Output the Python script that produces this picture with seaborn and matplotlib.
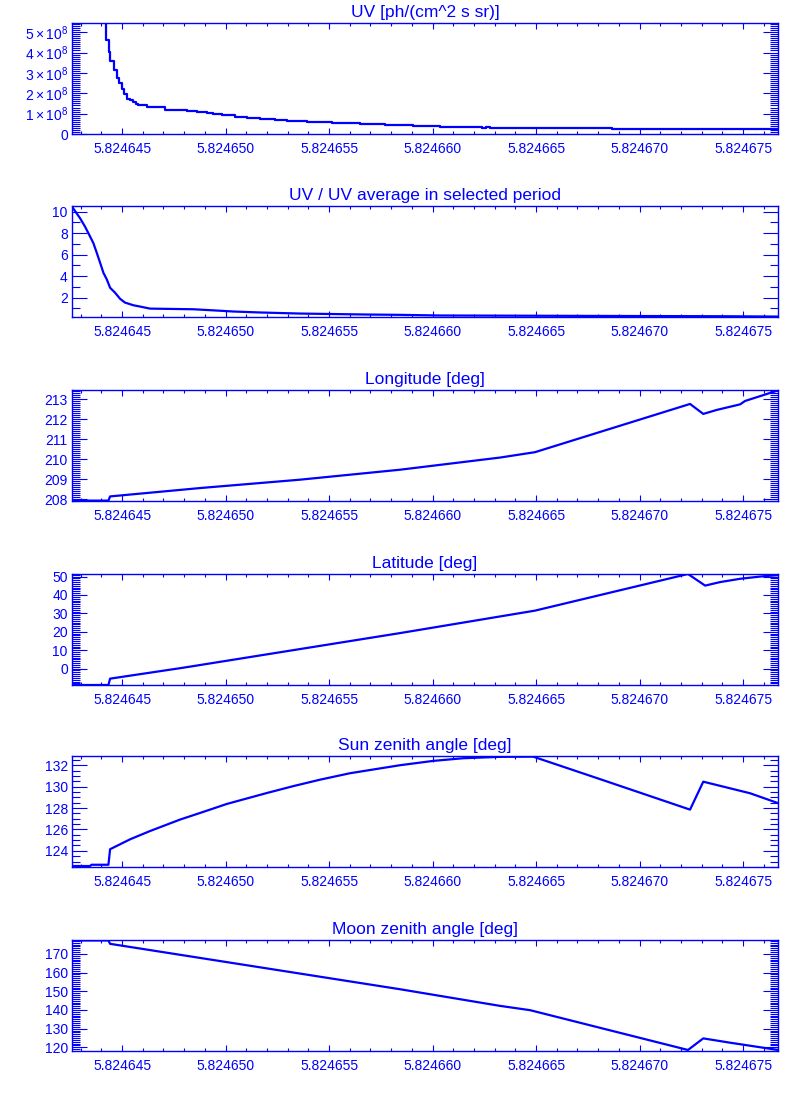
import matplotlib
matplotlib.use("Agg")
import matplotlib.pyplot as plt
from matplotlib.ticker import MultipleLocator, FormatStrFormatter, FuncFormatter
import seaborn as sns
import pandas as pd

# ---------------- data ----------------
uv_x = [5.82464258, 5.82464320, 5.82464370, 5.82464400, 5.82464423, 5.82464436, 5.82464443,
        5.82464460, 5.82464474, 5.82464487, 5.82464500, 5.82464511, 5.82464524, 5.82464539,
        5.82464552, 5.82464566, 5.82464579, 5.82464619, 5.82464708, 5.82464813, 5.82464861,
        5.82464909, 5.82464941, 5.82464982, 5.82465046, 5.82465102, 5.82465167, 5.82465239,
        5.82465296, 5.82465392, 5.82465513, 5.82465650, 5.82465771, 5.82465907, 5.82466036,
        5.82466238, 5.82466258, 5.82466278, 5.82466866, 5.82467669]
uv_y = [12.2e8, 10.0e8, 8.0e8, 6.5e8, 4.60e8, 4.05e8, 3.56e8,
        3.13e8, 2.77e8, 2.48e8, 2.21e8, 1.94e8, 1.73e8, 1.65e8,
        1.56e8, 1.48e8, 1.44e8, 1.32e8, 1.19e8, 1.13e8, 1.06e8,
        1.02e8, 0.97e8, 0.92e8, 0.85e8, 0.81e8, 0.76e8, 0.71e8,
        0.65e8, 0.60e8, 0.53e8, 0.48e8, 0.44e8, 0.39e8, 0.34e8,
        0.31e8, 0.34e8, 0.31e8, 0.26e8, 0.26e8]

ratio_x = [5.82464258, 5.82464297, 5.82464321, 5.82464337, 5.82464361, 5.82464378, 5.82464394,
           5.82464410, 5.82464426, 5.82464442, 5.82464466, 5.82464490, 5.82464514, 5.82464555,
           5.82464587, 5.82464635, 5.82464844, 5.82464957, 5.82465038, 5.82465167, 5.82465360,
           5.82465682, 5.82465843, 5.82466036, 5.82466809, 5.82467423, 5.82467669]
ratio_y = [10.46, 9.38, 8.6, 8.0, 7.08, 6.15, 5.23,
           4.3, 3.7, 2.92, 2.46, 1.9, 1.54, 1.29,
           1.17, 0.98, 0.92, 0.80, 0.71, 0.62, 0.52,
           0.43, 0.40, 0.34, 0.30, 0.27, 0.24]

lon_x = [5.82464258, 5.82464434, 5.82464442, 5.82464877, 5.82465360, 5.82465843, 5.82466326,
         5.82466495, 5.82467244, 5.82467308, 5.82467373, 5.82467486, 5.82467510, 5.82467669]
lon_y = [207.92, 207.92, 208.13, 208.55, 208.97, 209.47, 210.08,
         210.35, 212.77, 212.27, 212.47, 212.75, 212.92, 213.45]

lat_x = [5.82464258, 5.82464434, 5.82464442, 5.82464796, 5.82465843, 5.82466495, 5.82467234,
         5.82467317, 5.82467389, 5.82467486, 5.82467582, 5.82467669]
lat_y = [-8.9, -8.9, -5.45, 0.5, 19.3, 31.5, 51.4,
         45.1, 47.0, 48.8, 50.0, 50.8]

sun_x = [5.82464258, 5.82464345, 5.82464352, 5.82464434, 5.82464442, 5.82464539, 5.82464635,
         5.82464780, 5.82464877, 5.82465006, 5.82465070, 5.82465199, 5.82465328, 5.82465457,
         5.82465601, 5.82465843, 5.82466002, 5.82466147, 5.82466326, 5.82466486, 5.82466809,
         5.82467244, 5.82467308, 5.82467373, 5.82467534, 5.82467669]
sun_y = [122.58, 122.58, 122.70, 122.70, 124.15, 125.08, 125.85,
         126.92, 127.54, 128.38, 128.72, 129.40, 130.05, 130.65,
         131.25, 132.00, 132.40, 132.65, 132.78, 132.80, 130.70,
         127.85, 130.46, 130.15, 129.38, 128.46]

moon_x = [5.82464258, 5.82464434, 5.82464442, 5.82465843, 5.82466326, 5.82466471, 5.82467234,
          5.82467308, 5.82467437, 5.82467616, 5.82467669]
moon_y = [177.2, 177.2, 175.4, 151.1, 142.2, 139.9, 118.6,
          124.8, 122.5, 119.5, 118.6]

titles = ["UV [ph/(cm^2 s sr)]", "UV / UV average in selected period", "Longitude [deg]",
          "Latitude [deg]", "Sun zenith angle [deg]", "Moon zenith angle [deg]"]

# ---------------- style ----------------
BLUE = "#0000ff"
sns.set_style("ticks")
plt.rcParams["font.family"] = ["Liberation Sans", "DejaVu Sans"]
plt.rcParams["mathtext.fontset"] = "custom"
plt.rcParams["mathtext.rm"] = "Liberation Sans"
plt.rcParams["mathtext.it"] = "Liberation Sans:italic"
plt.rcParams["mathtext.bf"] = "Liberation Sans:bold"

fig = plt.figure(figsize=(8, 11), dpi=100)
fig.patch.set_facecolor("white")

tops_px = [23, 206, 390, 574, 756, 940]
left, width, height = 72 / 800, 706 / 800, 111 / 1100

series = [
    (uv_x, uv_y, "steps-post", (0, 5.45e8), 1e8, 1e7),
    (ratio_x, ratio_y, "default", (0.2, 10.52), 2, 1),
    (lon_x, lon_y, "default", (207.9, 213.47), 1, 0.1),
    (lat_x, lat_y, "default", (-8.9, 51.4), 10, 1),
    (sun_x, sun_y, "default", (122.49, 132.86), 2, 0.5),
    (moon_x, moon_y, "default", (118.05, 177.45), 10, 1),
]

xlim = (5.82464258, 5.82467669)

for i, (xs, ys, ds, ylim, major, minor) in enumerate(series):
    bottom = 1 - (tops_px[i] + 111) / 1100
    ax = fig.add_axes([left, bottom, width, height])
    df = pd.DataFrame({"x": xs, "y": ys})
    sns.lineplot(data=df, x="x", y="y", ax=ax, color=BLUE, linewidth=1.6,
                 estimator=None, sort=False, drawstyle=ds)
    ax.set_xlim(*xlim)
    ax.set_ylim(*ylim)
    ax.set_xlabel("")
    ax.set_ylabel("")
    ax.set_title(titles[i], color=BLUE, fontsize=12.5, pad=4)
    for sp in ax.spines.values():
        sp.set_color(BLUE)
        sp.set_linewidth(1.0)
        sp.set_visible(True)
    ax.xaxis.set_major_locator(MultipleLocator(5e-6))
    ax.xaxis.set_minor_locator(MultipleLocator(1e-6))
    ax.xaxis.set_major_formatter(FormatStrFormatter("%.6f"))
    ax.yaxis.set_major_locator(MultipleLocator(major))
    ax.yaxis.set_minor_locator(MultipleLocator(minor))
    if i == 0:
        ax.yaxis.set_major_formatter(FuncFormatter(
            lambda v, p: "0" if abs(v) < 1 else r"$%d\times10^{8}$" % round(v / 1e8)))
    else:
        ax.yaxis.set_major_formatter(FormatStrFormatter("%g"))
    ax.tick_params(axis="both", which="both", direction="in", colors=BLUE,
                   labelcolor=BLUE, width=0.8, top=True, right=True)
    ax.tick_params(axis="x", which="major", length=4, pad=6, labelsize=10)
    ax.tick_params(axis="x", which="minor", length=2.5)
    ax.tick_params(axis="y", which="major", length=10.5, pad=3, labelsize=10)
    ax.tick_params(axis="y", which="minor", length=5.5)
    ax.grid(False)

fig.savefig("out.png", dpi=100, facecolor="white")
